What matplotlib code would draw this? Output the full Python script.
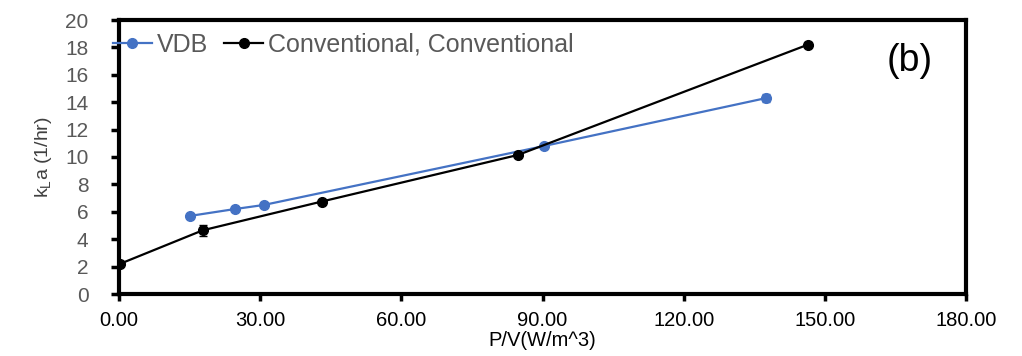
import matplotlib
matplotlib.use("Agg")
import matplotlib.pyplot as plt
from matplotlib.lines import Line2D

plt.rcParams['font.family'] = ['Liberation Sans', 'DejaVu Sans']

vdb_x = [15.1, 24.6, 30.8, 90.3, 137.5]
vdb_y = [5.7, 6.2, 6.5, 10.8, 14.3]
vdb_err = [0.1, 0.1, 0.1, 0.1, 0.3]

conv_x = [0.2, 17.8, 43.1, 84.8, 146.4]
conv_y = [2.2, 4.65, 6.75, 10.15, 18.2]
conv_err = [0.1, 0.4, 0.1, 0.1, 0.2]

xticks = [0, 30, 60, 90, 120, 150, 180]
xticklabels = ["0.00", "30.00", "60.00", "90.00", "120.00", "150.00", "180.00"]
yticks = list(range(0, 21, 2))

fig = plt.figure(figsize=(10.22, 3.56), dpi=100)
ax = fig.add_axes([119/1022, 1-294/356, (966-119)/1022, (294-20)/356])

blue = '#4472C4'
ax.errorbar(vdb_x, vdb_y, yerr=vdb_err, color=blue, marker='o', markersize=7,
            lw=1.6, capsize=3, elinewidth=0.8, ecolor=blue, zorder=3)
ax.errorbar(conv_x, conv_y, yerr=conv_err, color='black', marker='o', markersize=7,
            lw=1.6, capsize=3, elinewidth=0.8, ecolor='black', zorder=4)

ax.set_xlim(0, 180)
ax.set_ylim(0, 20)
ax.set_xticks(xticks)
ax.set_xticklabels(xticklabels, fontsize=14.5, color='black')
ax.set_yticks(yticks)
ax.set_yticklabels([str(v) for v in yticks], fontsize=15, color='#595959')
ax.tick_params(axis='y', direction='out', length=6, width=2.5, colors='black',
               labelcolor='#595959', pad=16)
ax.tick_params(axis='x', direction='out', length=5, width=2.5, colors='black',
               labelcolor='black', pad=7)
for s in ax.spines.values():
    s.set_linewidth(3)
    s.set_color('black')

ax.set_xlabel('P/V(W/m^3)', fontsize=14.5, labelpad=1)
ax.set_ylabel(r'k$_{\mathregular{L}}$a (1/hr)', fontsize=14, color='#404040', labelpad=8)

ax.text(0.933, 0.85, '(b)', transform=ax.transAxes, fontsize=27, ha='center', va='center')

handles = [Line2D([], [], color=blue, marker='o', markersize=7, lw=1.6),
           Line2D([], [], color='black', marker='o', markersize=7, lw=1.6)]
leg = ax.legend(handles, ['VDB', 'Conventional, Conventional'], loc='center left',
                bbox_to_anchor=(-0.007, 0.91), ncol=2, frameon=False,
                fontsize=18, handlelength=1.55, handletextpad=0.2, columnspacing=0.65,
                borderaxespad=0.0, borderpad=0.0)
for t in leg.get_texts():
    t.set_color('#595959')

fig.savefig('out.png', dpi=100)
